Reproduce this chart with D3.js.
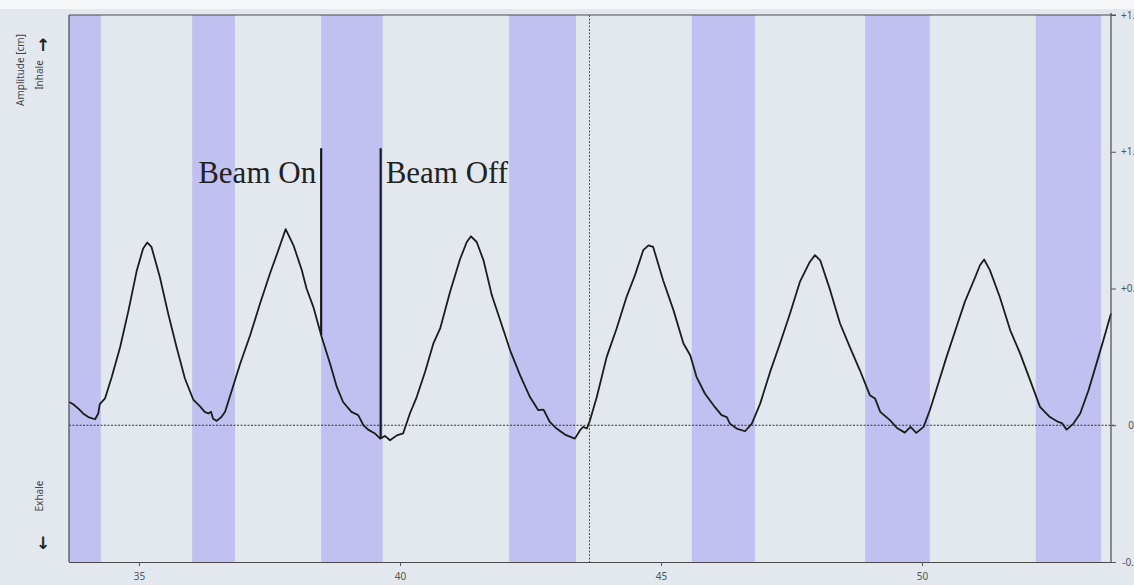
<!DOCTYPE html>
<html>
<head>
<meta charset="utf-8">
<script src="https://cdn.jsdelivr.net/npm/d3@7"></script>
<style>
  body { margin: 0; background: #e3e8ef; }
  svg { display: block; }
</style>
</head>
<body>
<svg id="chart"></svg>
<script>
// breathing trace, time in s, amplitude in cm
const times = [33.665, 33.74, 33.84, 33.93, 34.03, 34.16, 34.22, 34.25, 34.35, 34.48, 34.64, 34.80, 34.96, 35.08, 35.16, 35.24, 35.40, 35.56, 35.72, 35.88,
  36.04, 36.17, 36.26, 36.33, 36.38, 36.42, 36.49, 36.58, 36.65, 36.78, 36.94, 37.13, 37.32, 37.51, 37.67, 37.81, 37.96, 38.12, 38.21, 38.34,
  38.50, 38.66, 38.79, 38.91, 39.07, 39.20, 39.30, 39.39, 39.52, 39.62, 39.71, 39.81, 39.94, 40.06, 40.19, 40.32, 40.48, 40.64, 40.77, 40.96,
  41.15, 41.28, 41.36, 41.47, 41.60, 41.76, 41.92, 42.11, 42.30, 42.49, 42.65, 42.75, 42.87, 43.00, 43.16, 43.35, 43.45, 43.51, 43.58, 43.64,
  43.77, 43.96, 44.15, 44.34, 44.50, 44.66, 44.76, 44.85, 45.04, 45.24, 45.43, 45.56, 45.68, 45.84, 46.03, 46.16, 46.26, 46.32, 46.45, 46.61,
  46.74, 46.90, 47.09, 47.28, 47.47, 47.66, 47.85, 47.95, 48.05, 48.24, 48.43, 48.62, 48.81, 49.00, 49.10, 49.20, 49.39, 49.52, 49.67, 49.78,
  49.89, 50.03, 50.15, 50.31, 50.47, 50.66, 50.82, 51.02, 51.11, 51.19, 51.30, 51.49, 51.69, 51.88, 52.07, 52.26, 52.45, 52.61, 52.68, 52.77,
  52.90, 53.03, 53.19, 53.38, 53.51, 53.62];
const amplitude = [0.085, 0.077, 0.061, 0.043, 0.030, 0.022, 0.043, 0.077, 0.098, 0.177, 0.286, 0.420, 0.567, 0.646, 0.668, 0.652, 0.542, 0.408, 0.286, 0.171,
  0.094, 0.069, 0.049, 0.043, 0.049, 0.024, 0.016, 0.030, 0.049, 0.128, 0.226, 0.329, 0.445, 0.555, 0.640, 0.717, 0.658, 0.567, 0.500, 0.433,
  0.323, 0.226, 0.140, 0.085, 0.049, 0.037, 0.000, -0.016, -0.030, -0.049, -0.039, -0.055, -0.037, -0.030, 0.043, 0.103, 0.195, 0.299, 0.354, 0.488,
  0.607, 0.670, 0.691, 0.670, 0.603, 0.475, 0.384, 0.274, 0.183, 0.103, 0.055, 0.057, 0.012, -0.012, -0.034, -0.049, -0.018, -0.006, -0.012, 0.018,
  0.103, 0.250, 0.354, 0.469, 0.548, 0.640, 0.658, 0.652, 0.530, 0.420, 0.299, 0.256, 0.177, 0.116, 0.067, 0.037, 0.030, 0.006, -0.012, -0.022,
  0.006, 0.079, 0.195, 0.299, 0.408, 0.524, 0.597, 0.622, 0.603, 0.494, 0.372, 0.285, 0.201, 0.110, 0.098, 0.049, 0.018, -0.010, -0.027, -0.006,
  -0.028, -0.006, 0.055, 0.152, 0.250, 0.359, 0.451, 0.542, 0.585, 0.606, 0.567, 0.469, 0.347, 0.262, 0.165, 0.067, 0.030, 0.012, 0.008, -0.016,
  0.006, 0.043, 0.128, 0.250, 0.335, 0.409];

// gating windows (shaded)
const bandStarts = [33.66, 36.02, 38.49, 42.09, 45.59, 48.91, 52.18];
const bandEnds   = [34.27, 36.84, 39.67, 43.37, 46.80, 50.15, 53.43];

const xTicks = [35, 40, 45, 50];
const yTicks = [1.5, 1.0, 0.5, 0, -0.5];
const yTickLabels = ["+1.5", "+1.0", "+0.5", "0", "-0.5"];

const beamTimes = [38.49, 39.63];
const beamLabels = ["Beam On", "Beam Off"];
const beamTop = 1.013;
const cursorTime = 43.63;

const width = 1134, height = 585;
const margin = {top: 15, right: 23, bottom: 23, left: 69};

const svg = d3.select("#chart").attr("width", width).attr("height", height);

svg.append("rect").attr("width", width).attr("height", height).attr("fill", "#e3e8ef");
svg.append("rect").attr("width", width).attr("height", 9).attr("fill", "#f6f7f9");

const xScale = d3.scaleLinear().domain([33.66, 53.62]).range([margin.left, width - margin.right]);
const yScale = d3.scaleLinear().domain([-0.5, 1.5]).range([height - margin.bottom, margin.top]);

const x0 = xScale.range()[0], x1 = xScale.range()[1];
const yb = yScale.range()[0], yt = yScale.range()[1];

// shaded bands
svg.append("g").selectAll("rect").data(bandStarts)
  .enter().append("rect")
  .attr("x", (d) => xScale(d))
  .attr("width", (d, i) => xScale(bandEnds[i]) - xScale(d))
  .attr("y", yt)
  .attr("height", yb - yt)
  .attr("fill", "#c0c1f0");

// zero line + cursor
svg.append("line")
  .attr("x1", x0).attr("x2", x1 + 5)
  .attr("y1", yScale(0)).attr("y2", yScale(0))
  .attr("stroke", "#333").attr("stroke-width", 1).attr("stroke-dasharray", "2,1.5");
svg.append("line")
  .attr("x1", xScale(cursorTime)).attr("x2", xScale(cursorTime))
  .attr("y1", yt).attr("y2", yb)
  .attr("stroke", "#555").attr("stroke-width", 1).attr("stroke-dasharray", "2,1.5");

// trace
const pts = times.map((t, i) => [t, amplitude[i]]);
const line = d3.line().x(d => xScale(d[0])).y(d => yScale(d[1]));
svg.append("path").datum(pts)
  .attr("d", line)
  .attr("fill", "none")
  .attr("stroke", "#1c1c1c")
  .attr("stroke-width", 1.8)
  .attr("stroke-linejoin", "round");

// beam markers
const bis = d3.bisector(d => d).left;
function ampAt(t) {
  let i = bis(times, t);
  let f = (t - times[i - 1]) / (times[i] - times[i - 1]);
  return amplitude[i - 1] + f * (amplitude[i] - amplitude[i - 1]);
}
beamTimes.forEach((t, i) => {
  svg.append("line")
    .attr("x1", xScale(t)).attr("x2", xScale(t))
    .attr("y1", yScale(beamTop)).attr("y2", yScale(ampAt(t)))
    .attr("stroke", "#1a1a1a").attr("stroke-width", 2.2);
  svg.append("text")
    .attr("x", i == 0 ? xScale(t) - 5 : xScale(t) + 5)
    .attr("y", yScale(beamTop) + 35)
    .attr("text-anchor", i == 0 ? "end" : "start")
    .attr("font-family", "Liberation Serif, serif")
    .attr("font-size", 31)
    .attr("fill", "#222")
    .text(beamLabels[i]);
});

// frame
const frame = svg.append("g").attr("stroke", "#4a4a4a").attr("stroke-width", 1.2);
frame.append("line").attr("x1", x0).attr("x2", x0).attr("y1", yt).attr("y2", yb);
frame.append("line").attr("x1", x1).attr("x2", x1).attr("y1", yt - 2).attr("y2", yb);
frame.append("line").attr("x1", x0).attr("x2", x1 + 5).attr("y1", yt).attr("y2", yt);

// x axis
const xAxis = d3.axisBottom(xScale).tickValues(xTicks).tickSize(4).tickPadding(7).tickSizeOuter(0);
const gx = svg.append("g").attr("transform", `translate(0, ${yb})`).call(xAxis);
gx.select(".domain").attr("d", `M${x0},0.5H${x1 + 5}`).attr("stroke", "#4a4a4a").attr("stroke-width", 1.2);
gx.selectAll(".tick line").attr("stroke", "#555");
gx.selectAll("text").attr("font-family", "Noto Sans, sans-serif").attr("font-size", 10).attr("fill", "#555");

// right axis (labels run off the edge, as in the source screenshot)
const yAxis = d3.axisRight(yScale).tickValues(yTicks).tickSize(5).tickPadding(6)
  .tickFormat((d, i) => yTickLabels[i]);
const gy = svg.append("g").attr("transform", `translate(${x1}, 0)`).call(yAxis);
gy.select(".domain").remove();
gy.selectAll(".tick line").attr("stroke", "#555");
gy.selectAll("text").attr("font-family", "Noto Sans, sans-serif").attr("font-size", 10).attr("fill", "#555")
  .attr("x", 20).attr("text-anchor", "middle");

// left labels
const lab = svg.append("g").attr("font-family", "Noto Sans, sans-serif").attr("font-size", 10).attr("fill", "#444");
lab.append("text").attr("transform", "translate(24,70) rotate(-90)").attr("text-anchor", "middle").text("Amplitude [cm]");
lab.append("text").attr("transform", "translate(43,75) rotate(-90)").attr("text-anchor", "middle").text("Inhale");
lab.append("text").attr("transform", "translate(43,496) rotate(-90)").attr("text-anchor", "middle").text("Exhale");
lab.append("text").attr("x", 43).attr("y", 51).attr("text-anchor", "middle")
  .attr("font-family", "DejaVu Sans, sans-serif").attr("font-size", 17).attr("font-weight", "bold").attr("fill", "#222").text("↑");
lab.append("text").attr("x", 43).attr("y", 549).attr("text-anchor", "middle")
  .attr("font-family", "DejaVu Sans, sans-serif").attr("font-size", 17).attr("font-weight", "bold").attr("fill", "#222").text("↓");
</script>
</body>
</html>
